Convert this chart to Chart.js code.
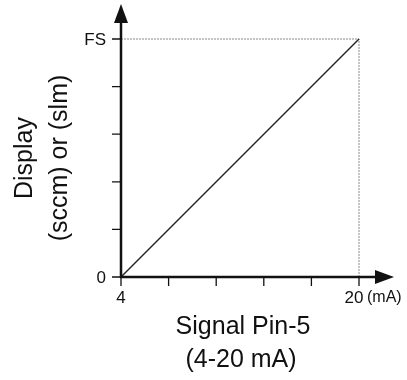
<!DOCTYPE html>
<html lang="en">
<head>
  <meta charset="UTF-8">
  <title>Display vs Signal Pin-5</title>
  <script src="https://cdn.jsdelivr.net/npm/chart.js"></script>
  <style>
    body { margin: 0; background: #fff; }
    canvas { display: block; }
  </style>
</head>
<body>
<canvas id="chart" width="407" height="380"></canvas>

<script>
// data
const signalMA = [4, 20];
const displayFS = [0, 1];
const refX = [4, 20, 20];
const refY = [1, 1, 0];
const xTicks = [4, 7.2, 10.4, 13.6, 16.8, 20];
const yTicks = [0, 0.2, 0.4, 0.6, 0.8, 1];
const yTickLabels = ['0', '', '', '', '', 'FS'];
const xTitle = ['Signal Pin-5', '(4-20 mA)'];
const yTitle = ['Display', '(sccm) or (slm)'];

const FONT = '"Liberation Sans", Arial, sans-serif';

const axesPlugin = {
  id: 'axes',
  afterDatasetsDraw(chart) {
    const ctx = chart.ctx;
    const xs = chart.scales.x, ys = chart.scales.y;
    const x0 = xs.getPixelForValue(4), y0 = ys.getPixelForValue(0);
    ctx.save();
    ctx.strokeStyle = '#111';
    ctx.fillStyle = '#111';
    ctx.lineWidth = 2.5;
    // axis lines
    ctx.beginPath();
    ctx.moveTo(x0, y0 + 1);
    ctx.lineTo(x0, 20);
    ctx.moveTo(x0 - 1, y0);
    ctx.lineTo(378, y0);
    ctx.stroke();
    // arrows
    ctx.beginPath();
    ctx.moveTo(x0, 4); ctx.lineTo(x0 - 7, 23); ctx.lineTo(x0 + 7, 23); ctx.closePath();
    ctx.fill();
    ctx.beginPath();
    ctx.moveTo(394, y0); ctx.lineTo(375, y0 - 7); ctx.lineTo(375, y0 + 7); ctx.closePath();
    ctx.fill();
    // ticks
    ctx.lineWidth = 1.3;
    ctx.beginPath();
    yTicks.forEach(v => {
      const p = ys.getPixelForValue(v);
      ctx.moveTo(x0 - 9, p); ctx.lineTo(x0, p);
    });
    xTicks.forEach(v => {
      const p = xs.getPixelForValue(v);
      ctx.moveTo(p, y0); ctx.lineTo(p, y0 + 9);
    });
    ctx.stroke();
    // tick labels
    ctx.font = '17px ' + FONT;
    ctx.textAlign = 'right';
    ctx.textBaseline = 'middle';
    yTicks.forEach((v, i) => {
      if (yTickLabels[i]) ctx.fillText(yTickLabels[i], x0 - 15, ys.getPixelForValue(v) + 1);
    });
    ctx.textAlign = 'center';
    ctx.fillText('4', xs.getPixelForValue(4), y0 + 21);
    const p20 = xs.getPixelForValue(20);
    ctx.fillText('20', p20 - 5, y0 + 21);
    ctx.font = '16px ' + FONT;
    ctx.textAlign = 'left';
    ctx.fillText('(mA)', p20 + 8, y0 + 21);
    // axis titles
    ctx.font = '25px ' + FONT;
    ctx.textAlign = 'center';
    ctx.textBaseline = 'alphabetic';
    ctx.fillText(xTitle[0], 243, 334);
    ctx.fillText(xTitle[1], 241, 367);
    ctx.save();
    ctx.translate(0, 158);
    ctx.rotate(-Math.PI / 2);
    ctx.fillText(yTitle[0], 0, 32);
    ctx.fillText(yTitle[1], 0, 67);
    ctx.restore();
    ctx.restore();
  }
};

new Chart(document.getElementById('chart'), {
  type: 'line',
  data: {
    datasets: [
      {
        data: signalMA.map((x, i) => ({ x, y: displayFS[i] })),
        borderColor: '#222',
        borderWidth: 1.5,
        pointRadius: 0,
        clip: false
      },
      {
        data: refX.map((x, i) => ({ x, y: refY[i] })),
        borderColor: '#8a8a8a',
        borderWidth: 1,
        borderDash: [2, 1],
        pointRadius: 0,
        clip: false
      }
    ]
  },
  options: {
    responsive: false,
    animation: false,
    events: [],
    layout: { padding: { left: 121, right: 48, top: 39, bottom: 103 } },
    plugins: { legend: { display: false }, tooltip: { enabled: false } },
    scales: {
      x: { type: 'linear', min: 4, max: 20, display: false },
      y: { type: 'linear', min: 0, max: 1, display: false }
    }
  },
  plugins: [axesPlugin]
});
</script>
</body>
</html>
